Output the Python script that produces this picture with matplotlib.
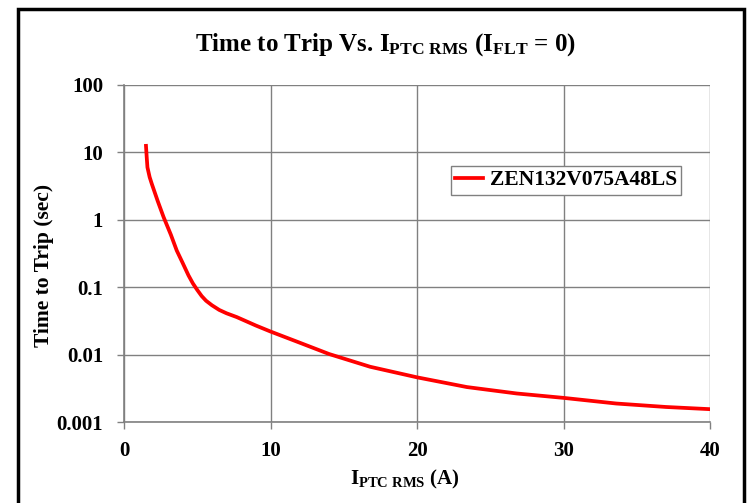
import numpy as np
import matplotlib.pyplot as plt
from matplotlib.patches import Rectangle

# values
current = [1.5, 1.55, 1.6, 1.75, 1.9, 2.3, 2.7, 3.2, 3.6, 4.0, 4.4, 4.7, 5.0, 5.3, 5.6, 6.0, 6.5, 7.0, 7.7,
           9.0, 10.0, 12.0, 14.0, 16.8, 20.0, 23.4, 26.8, 30.0, 33.6, 37.0, 40.0]
trip_time = [12.5, 8.5, 6.0, 4.3, 3.4, 1.9, 1.1, 0.6, 0.35, 0.23, 0.15, 0.114, 0.091, 0.074, 0.063, 0.054,
             0.046, 0.041, 0.036, 0.027, 0.022, 0.015, 0.0102, 0.0066, 0.0046, 0.0033, 0.00265, 0.00228,
             0.00188, 0.00167, 0.00155]
series_name = 'ZEN132V075A48LS'
x_ticks = [0, 10, 20, 30, 40]
y_ticks = [0.001, 0.01, 0.1, 1, 10, 100]
y_tick_labels = ['0.001', '0.01', '0.1', '1', '10', '100']

plt.rcParams['font.family'] = 'Liberation Serif'
plt.rcParams['font.weight'] = 'bold'
plt.rcParams['mathtext.fontset'] = 'custom'
plt.rcParams['mathtext.rm'] = 'Liberation Serif:bold'
plt.rcParams['mathtext.it'] = 'Liberation Serif:bold'
plt.rcParams['mathtext.bf'] = 'Liberation Serif:bold'

fig = plt.figure(figsize=(7.51, 5.03), dpi=100)
ax = fig.add_axes([124/751, 1 - 422/503, (710 - 124)/751, (422 - 85)/503])

ax.plot(current, trip_time, color='#ff0000', lw=2.7, label=series_name,
        solid_joinstyle='round')
ax.set_yscale('log')
ax.set_xlim(0, 40)
ax.set_ylim(0.001, 100)
ax.set_xticks(x_ticks)
ax.set_yticks(y_ticks)
ax.set_yticklabels(y_tick_labels)
ax.minorticks_off()
ax.grid(True, color='#808080', lw=1)
ax.set_axisbelow(True)
for s in ['top', 'right']:
    ax.spines[s].set_visible(False)
for s in ['left', 'bottom']:
    ax.spines[s].set_color('#808080')
    ax.spines[s].set_linewidth(1.2)
ax.tick_params(axis='both', colors='#808080', labelcolor='black', labelsize=15,
               length=5, width=1)
ax.tick_params(axis='y', pad=10)
ax.tick_params(axis='x', pad=9)

fig.text(385/751, 1 - 45/503, r'Time to Trip Vs. $\mathrm{I_{PTC\ RMS}}$ ($\mathrm{I_{FLT}}$ = 0)',
         fontsize=18, fontweight='bold', ha='center', va='center')
ax.set_ylabel('Time to Trip (sec)', fontsize=15.5, fontweight='bold')
ax.yaxis.set_label_coords(-0.137, 0.466)
ax.set_xlabel(r'$\mathrm{I_{PTC\ RMS}}$ (A)', fontsize=15, fontweight='bold')
ax.xaxis.set_label_coords(0.48, -0.172)
ax.xaxis.label.set_va('center')
ax.yaxis.label.set_va('center')

leg = ax.legend(loc='upper left', bbox_to_anchor=(0.558, 0.76), fontsize=15.5,
                frameon=True, fancybox=False, edgecolor='#808080', framealpha=1,
                handlelength=1.3, handletextpad=0.3, borderpad=0.2, borderaxespad=0)
leg.get_frame().set_linewidth(1)

fig.patches.append(Rectangle((18/751, -0.05), (744 - 18)/751, 1.05 - 9/503,
                             transform=fig.transFigure, fill=False, ec='black', lw=2.5))

fig.savefig('out.png', dpi=100)
